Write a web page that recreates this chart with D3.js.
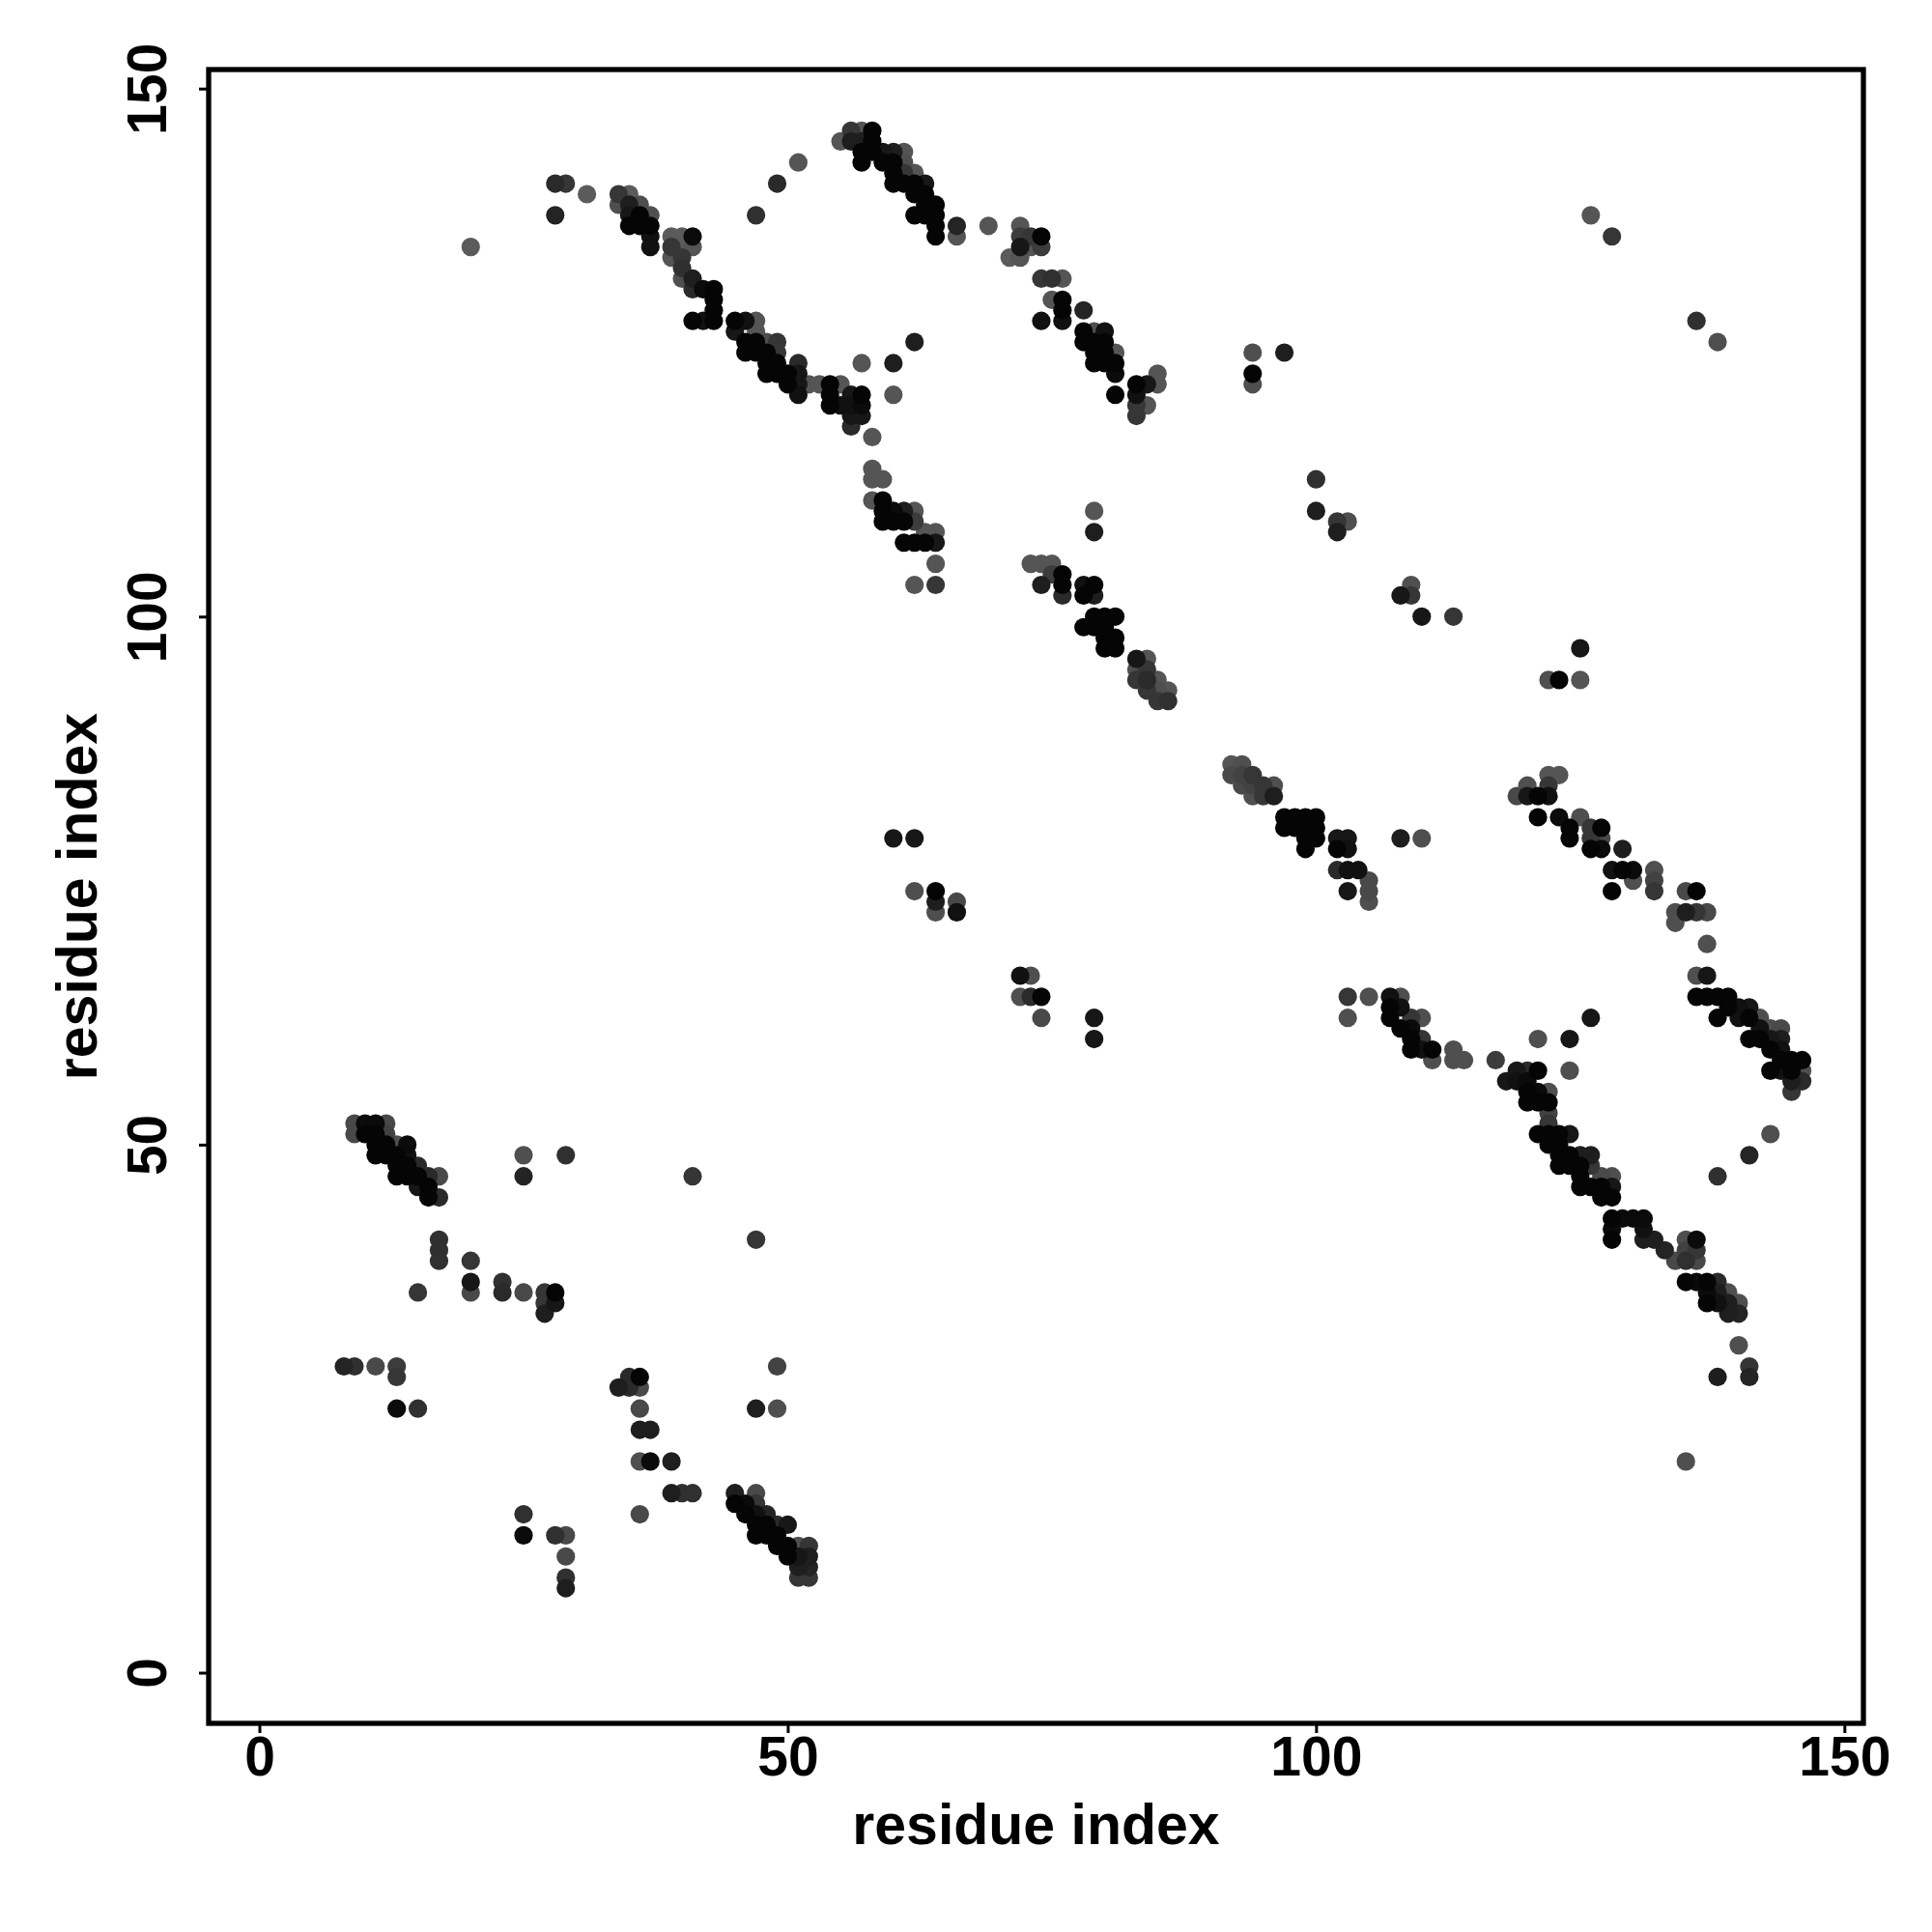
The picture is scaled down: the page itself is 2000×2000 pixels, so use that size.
<!DOCTYPE html>
<html>
<head>
<meta charset="utf-8">
<script src="https://cdn.jsdelivr.net/npm/d3@7"></script>
<style>
  html, body { margin: 0; padding: 0; background: #fff; }
  svg { display: block; }
</style>
</head>
<body>
<div id="chart"></div>
<script>
// Each contact: [residue i (x), residue j (y), contact score]
const contactsTopLeft = [
  [20,135,.3],[28,141,.7],[29,141,.6],[28,138,.75],[31,140,.3],
  [34,140,.6],[35,140,.3],[34,139,.4],[35,139,.8],[36,139,.4],[35,138,.85],[36,138,1],[37,138,.4],[35,137,1],[36,137,1],[37,137,1],[37,136,.9],[37,135,.9],
  [39,136,.3],[40,136,.3],[41,136,.95],[39,135,.6],[40,135,.3],[41,135,.35],[39,134,.35],[40,134,.6],[40,133,.65],[40,132,.4],[41,132,.8],[41,131,.7],[42,131,.95],[43,131,1],[43,130,1],[43,129,1],[41,128,1],[42,128,.9],[43,128,1],
  [45,128,1],[46,128,.9],[47,128,.35],[45,127,.85],[47,127,.35],[46,126,1],[47,126,1],[48,126,.4],[49,126,.6],[46,125,1],[47,125,1],[48,125,1],[49,125,.6],[48,124,1],[49,124,1],[51,124,.7],[48,123,1],[49,123,1],[50,123,1],[51,123,.85],[50,122,1],[51,122,.85],[51,121,.9],[52,122,.35],[53,122,.35],[54,122,1],[54,121,1],[54,120,1],
  [47,138,.65],[49,141,.7],[51,143,.35]
];
const contactsTopMid = [
  [55,145,.35],[56,146,.6],[57,146,.35],[58,146,1],[56,145,.8],[57,145,.8],[58,145,1],[57,144,1],[58,144,1],[59,144,.85],[60,144,.8],[61,144,.35],[57,143,1],[59,143,1],[60,143,1],[61,143,.4],[60,142,1],[61,142,.6],[62,142,.35],[60,141,1],[61,141,1],[62,141,1],[63,141,.85],[62,140,1],[63,140,1],[63,139,1],[64,139,1],[62,138,1],[63,138,1],[64,138,1],[64,137,1],[64,136,1],[66,137,.75],[66,136,.35],[69,137,.35],
  [55,122,.35],[56,121,.85],[57,121,1],[55,120,.9],[56,120,.9],[57,120,.95],[56,119,.85],[57,119,.85],[56,118,.7],[58,117,.35],[62,126,.8],[57,124,.35],[60,124,.8],[60,121,.35],[58,114,.35],[59,113,.35],
  [58,113,.35],[58,111,.35],[59,111,1],[59,110,1],[60,110,.95],[61,110,.8],[62,110,.35],[59,109,1],[60,109,1],[61,109,1],[62,109,.55],[63,108,.35],[64,108,.35],[61,107,1],[62,107,1],[63,107,1],[64,107,.85],[64,105,.35],[62,103,.35],[64,103,.6]
];
const contactsUpperBand = [
  [72,137,.35],[73,136,.6],[74,136,1],[72,136,.55],[72,135,.85],[73,135,.35],[74,135,.55],[71,134,.3],[72,134,.35],
  [74,132,.6],[75,132,.65],[76,132,.35],[75,130,.35],[76,130,1],[76,129,1],[74,128,.9],[76,128,.9],[78,129,.75],
  [78,127,1],[79,127,.4],[80,127,.9],[78,126,1],[79,126,1],[80,126,1],[81,125,.35],[79,125,1],[80,125,1],[79,124,1],[80,124,1],[81,124,1],[81,123,.95],[81,121,1],[83,122,1],[84,122,.85],[85,123,.35],[85,122,.35],[83,121,.9],[83,120,.6],[84,120,.35],[83,119,.6],
  [79,110,.35],[79,108,.8],
  [73,105,.35],[74,105,.35],[75,105,.35],[74,103,.8],[75,104,.55],[76,104,1],[76,103,1],[76,102,.7],[78,103,.9],[79,103,1],[78,102,1],[79,102,.8],[79,100,1],[80,100,1],[81,100,1],[78,99,1],[79,99,1],[80,99,1],[80,98,1],[81,98,1],[80,97,1],[81,97,1],[83,96,.85],[84,96,.35],[83,95,.4],[84,95,.6],[83,94,.6],[84,94,.7],[85,94,.35],[84,93,.6],[85,93,.4],[86,93,.35],[85,92,.6],[86,92,.65]
];
const contactsScatterTopRight = [
  [94,125,.4],[97,125,.8],[94,123,1],[94,122,.4],[100,113,.65],[100,110,.8],[102,109,.6],[103,109,.4],[102,108,.8],[109,103,.4],[108,102,.85],[109,102,.6],[110,100,.85],[113,100,.6],[125,97,.85],[122,94,.4],[123,94,1],[125,94,.35],[126,138,.35],[128,136,.6],[136,128,.65],[138,126,.4]
];
const contactsMiddle = [
  [92,86,.35],[93,86,.4],[92,85,.45],[93,85,.5],[94,85,.6],[93,84,.45],[94,84,.5],[95,84,.6],[96,84,.4],[94,83,.4],[95,83,.6],[96,83,.8],
  [97,81,1],[98,81,1],[99,81,1],[100,81,1],[97,80,1],[98,80,1],[99,80,1],[100,80,1],[99,79,1],[100,79,1],[99,78,1],
  [102,79,.85],[103,79,.85],[102,78,1],[103,78,.9],[102,76,.7],[103,76,.9],[104,76,.9],[105,75,.45],[105,74,.45],[105,73,.4],[103,74,.85],[108,79,.8],[110,79,.4],
  [60,79,.85],[62,79,.85],[62,74,.4],[64,74,1],[64,73,.8],[64,72,.4],[66,73,.45],[66,72,.9],[72,66,.9],[73,66,.4],[72,64,.4],[73,64,.7],[74,64,1],[74,62,.45],[79,62,.85],[79,60,.85]
];
const contactsRightBand = [
  [122,85,.35],[123,85,.35],[120,84,.4],[122,84,.6],[119,83,.45],[120,83,.85],[121,83,1],[122,83,.9],[121,81,1],
  [123,81,.95],[125,81,.4],[124,80,1],[126,80,.6],[127,80,1],[124,79,1],[126,79,.6],[127,79,.45],[126,78,1],[127,78,.95],[129,78,.8],
  [128,76,.9],[129,76,1],[130,76,.95],[130,75,.4],[128,74,1],[132,76,.4],[132,75,.5],[132,74,.6],
  [135,74,.45],[136,74,1],[134,72,.4],[135,72,.8],[136,72,.6],[137,72,.45],[134,71,.4],[137,69,.4],
  [136,66,.4],[137,66,.85],[136,64,1],[137,64,1],[138,64,1],[139,64,1],[138,62,1],[139,63,1],[140,63,.9],[140,62,.9],[141,63,.85],[142,62,.4],[141,62,1],[142,61,.9],[143,61,.4],[144,61,.45],[141,60,1],[142,60,1],[143,60,.85],[144,60,.8],[143,59,1],[144,59,.9],[144,58,1],[145,58,1],[146,58,1],[143,57,1],[144,57,.9],[145,57,1],[146,57,.4],[145,56,.8],[146,56,.7],[145,55,.6]
];
const contactsLowerRight = [
  [103,64,.6],[105,64,.4],[103,62,.4],
  [107,64,.9],[108,64,.4],[107,63,1],[108,63,.9],[107,62,1],[109,62,.6],[110,62,.4],[108,61,1],[109,61,.95],[109,60,1],[110,60,.6],[109,59,1],[110,59,.9],[111,59,1],[111,58,.4],[113,59,.4],[113,58,.4],[114,58,.4],[117,58,.55],
  [126,62,.85],[121,60,.4],[124,60,.85],[124,57,.4],
  [118,56,.85],[119,57,.85],[120,57,.7],[121,57,1],[119,56,.9],[120,56,.95],[120,55,1],[121,55,.95],[122,55,.4],[120,54,1],[121,54,1],[122,54,1],[122,53,.5],[122,52,.6],[121,51,1],[122,51,1],[123,51,1],[124,51,.85],[122,50,1],[123,50,1],[123,49,1],[124,49,1],[125,49,.8],[126,49,.8],[123,48,1],[124,48,1],[125,48,1],[126,48,.6],[127,47,.45],[128,47,.4],[125,47,1],[125,46,1],[126,46,1],[127,46,1],[128,46,.85],[127,45,1],[128,45,1],
  [128,43,1],[129,43,.95],[130,43,.95],[131,43,.95],[128,42,.95],[128,41,1],[131,42,.9],[131,41,.8],[132,41,.8],[133,40,.75],[134,39,.45],[135,40,.5],[135,39,.65],[136,39,.45],[135,41,.4],[136,41,.95],[136,40,.6],
  [135,37,1],[136,37,.95],[137,37,1],[138,37,.7],[137,36,.95],[138,36,.8],[139,36,.4],[137,35,1],[138,35,.9],[139,35,.8],[140,35,.4],[139,34,.8],[140,34,.75],
  [140,31,.4],[141,29,.6],[141,28,.75],[138,28,.8],[135,20,.4],[143,51,.4],[141,49,.75],[138,47,.65]
];
const contactsBottomLeft = [
  [9,52,.45],[9,51,.45],[10,52,.95],[11,52,.95],[12,52,.45],[10,51,1],[11,51,1],[12,51,.5],[11,50,1],[12,50,1],[13,50,.4],[14,50,.95],[11,49,1],[12,49,1],[13,49,1],[14,49,.9],[13,48,1],[14,48,1],[15,48,.7],[13,47,1],[14,47,1],[15,47,1],[16,47,.7],[17,47,.45],[15,46,.85],[16,46,1],[16,45,1],[17,45,.7],
  [17,41,.65],[17,40,.65],[17,39,.65],[20,39,.6],[20,37,.85],[20,36,.45],[15,36,.6],[23,37,.65],[23,36,.7],[25,36,.45],[27,36,.6],[28,36,1],[27,35,.6],[28,35,.85],[27,34,.8],
  [8,29,.75],[9,29,.65],[11,29,.45],[13,29,.55],[13,28,.6],[13,25,.95],[15,25,.65],
  [25,15,.65],[25,13,.95],[28,13,.65],[29,13,.45],[29,11,.45],[29,9,.65],[29,8,.8],
  [25,49,.4],[25,47,.75],[29,49,.65]
];
const contactsBottomMid = [
  [41,47,.6],[47,41,.6],[49,29,.5],[47,25,.8],[49,25,.4],
  [34,27,.8],[35,28,.7],[36,28,1],[35,27,.7],[36,27,.45],[36,25,.45],[36,23,.8],[37,23,.8],[36,20,.4],[37,20,.95],[39,20,.8],[39,17,.8],[40,17,.65],[41,17,.65],[36,15,.45],
  [45,17,.8],[47,17,.45],[45,16,1],[46,16,.95],[47,16,.6],[46,15,1],[47,15,.9],[48,15,.75],[47,14,1],[48,14,1],[49,14,.7],[50,14,.85],[47,13,1],[48,13,1],[49,13,1],[49,12,1],[50,12,1],[51,12,.4],[52,12,.6],[50,11,1],[51,11,.85],[52,11,.8],[51,10,.8],[52,10,.75],[51,9,.6],[52,9,.6]
];

const xTicks = [0, 50, 100, 150];
const yTicks = [0, 50, 100, 150];
const xTitle = "residue index";
const yTitle = "residue index";

const contacts = [].concat(contactsTopLeft, contactsTopMid, contactsUpperBand,
  contactsScatterTopRight, contactsMiddle, contactsRightBand, contactsLowerRight,
  contactsBottomLeft, contactsBottomMid)
  .map(d => ({ i: d[0], j: d[1], s: d[2] }))
  .sort((a, b) => a.s - b.s);

const W = 2000, H = 2000;
const box = { left: 216, top: 72, right: 1929, bottom: 1784 };
const font = "'Liberation Sans', Arial, Helvetica, sans-serif";

const svg = d3.select("#chart").append("svg")
  .attr("width", W).attr("height", H)
  .attr("viewBox", `0 0 ${W} ${H}`);

const x = d3.scaleLinear().domain([-4.8, 151.8]).range([box.left, box.right]);
const y = d3.scaleLinear().domain([-4.8, 151.8]).range([box.bottom, box.top]);
const shade = d3.scaleLinear().domain([0.3, 1]).range(["#5b5b5b", "#050505"]).clamp(true);

svg.append("g")
  .selectAll("circle")
  .data(contacts)
  .join("circle")
  .attr("cx", d => x(d.i))
  .attr("cy", d => y(d.j))
  .attr("r", 9.6)
  .attr("fill", d => shade(d.s));

// Frame
svg.append("rect")
  .attr("x", box.left).attr("y", box.top)
  .attr("width", box.right - box.left).attr("height", box.bottom - box.top)
  .attr("fill", "none").attr("stroke", "#000").attr("stroke-width", 5.3);

// X axis
const xAxis = svg.append("g").attr("transform", `translate(0,${box.bottom})`)
  .call(d3.axisBottom(x).tickValues(xTicks).tickSize(10).tickPadding(0).tickFormat(d3.format("d")));
xAxis.select(".domain").remove();
xAxis.selectAll(".tick line").attr("stroke", "#000").attr("stroke-width", 3);
xAxis.selectAll(".tick text")
  .attr("y", 54).attr("dy", 0)
  .attr("font-family", font).attr("font-weight", "bold").attr("font-size", 57).attr("fill", "#000");

// Y axis
const yAxis = svg.append("g").attr("transform", `translate(${box.left},0)`)
  .call(d3.axisLeft(y).tickValues(yTicks).tickSize(10).tickPadding(0).tickFormat(d3.format("d")));
yAxis.select(".domain").remove();
yAxis.selectAll(".tick line").attr("stroke", "#000").attr("stroke-width", 3);
yAxis.selectAll(".tick text")
  .attr("x", null).attr("dy", 0)
  .attr("text-anchor", "middle")
  .attr("transform", "translate(-44,0) rotate(-90)")
  .attr("font-family", font).attr("font-weight", "bold").attr("font-size", 57).attr("fill", "#000");

// Titles
svg.append("text")
  .attr("x", (box.left + box.right) / 2).attr("y", 1909)
  .attr("text-anchor", "middle")
  .attr("font-family", font).attr("font-weight", "bold").attr("font-size", 59)
  .text(xTitle);
svg.append("text")
  .attr("transform", `translate(100,${(box.top + box.bottom) / 2}) rotate(-90)`)
  .attr("text-anchor", "middle")
  .attr("font-family", font).attr("font-weight", "bold").attr("font-size", 59)
  .text(yTitle);
</script>
</body>
</html>
